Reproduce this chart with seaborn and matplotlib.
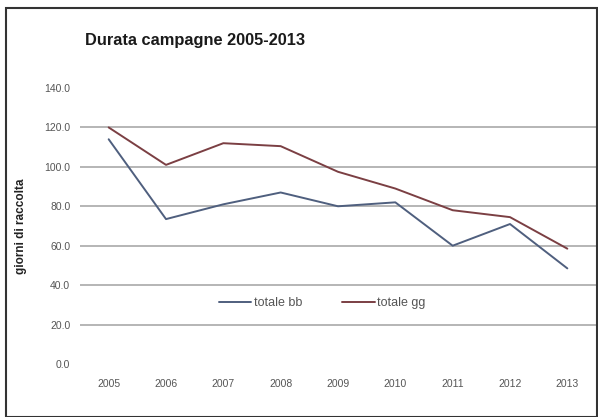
import matplotlib
matplotlib.use("Agg")
import matplotlib.pyplot as plt
import seaborn as sns
import pandas as pd
from matplotlib.patches import Rectangle

anni = [2005, 2006, 2007, 2008, 2009, 2010, 2011, 2012, 2013]
totale_bb = [114.0, 73.5, 81.0, 87.0, 80.0, 82.0, 60.0, 71.0, 48.5]
totale_gg = [120.0, 101.0, 112.0, 110.5, 97.5, 89.0, 78.0, 74.5, 58.5]
serie = ["totale bb", "totale gg"]
colori = ["#4f5f7e", "#7b3f43"]
y_ticks = [0, 20, 40, 60, 80, 100, 120, 140]

df = pd.DataFrame({
    "anno": anni * 2,
    "giorni": totale_bb + totale_gg,
    "serie": [serie[0]] * len(anni) + [serie[1]] * len(anni),
})

sns.set_theme(style="white")
plt.rcParams["font.family"] = ["Liberation Sans", "DejaVu Sans"]

W, H = 598, 417
fig = plt.figure(figsize=(W / 100, H / 100), dpi=100)
ax = fig.add_axes([80 / W, (H - 364) / H, 516 / W, 276 / H])

for y in y_ticks[1:-1]:
    ax.axhline(y, color="#b0b0b0", lw=1.3, zorder=0)

sns.lineplot(data=df, x="anno", y="giorni", hue="serie", palette=colori,
             linewidth=1.4, ax=ax, legend=True)

ax.set_xlim(2004.5, 2013.5)
ax.set_ylim(0, 140)
ax.set_xticks(anni)
ax.set_xticklabels([str(a) for a in anni], fontsize=7.5, color="#555555")
ax.set_yticks(y_ticks)
ax.set_yticklabels([f"{v:.1f}" for v in y_ticks], fontsize=7.5, color="#555555")
ax.tick_params(axis="both", length=0)
ax.tick_params(axis="y", pad=7)
ax.tick_params(axis="x", pad=11)
for s in ax.spines.values():
    s.set_visible(False)
ax.set_xlabel("")
ax.set_ylabel("giorni di raccolta", fontsize=8.5, fontweight="bold", labelpad=12,
              color="#222222")

leg = ax.legend(loc="center", bbox_to_anchor=(0.469, 31 / 140), ncol=2, frameon=False,
                fontsize=9, handlelength=2.6, columnspacing=3.2, handletextpad=0.2)
for t in leg.get_texts():
    t.set_color("#555555")

fig.text(85 / W, 1 - 40 / H, "Durata campagne 2005-2013", fontsize=11.8,
         fontweight="bold", color="#1a1a1a", va="center", ha="left")

fig.patches.append(Rectangle((6 / W, 0), 1 - 7 / W, 1 - 8 / H, transform=fig.transFigure,
                             fill=False, edgecolor="#333333", lw=1.5))

fig.savefig("out.png", dpi=100)
